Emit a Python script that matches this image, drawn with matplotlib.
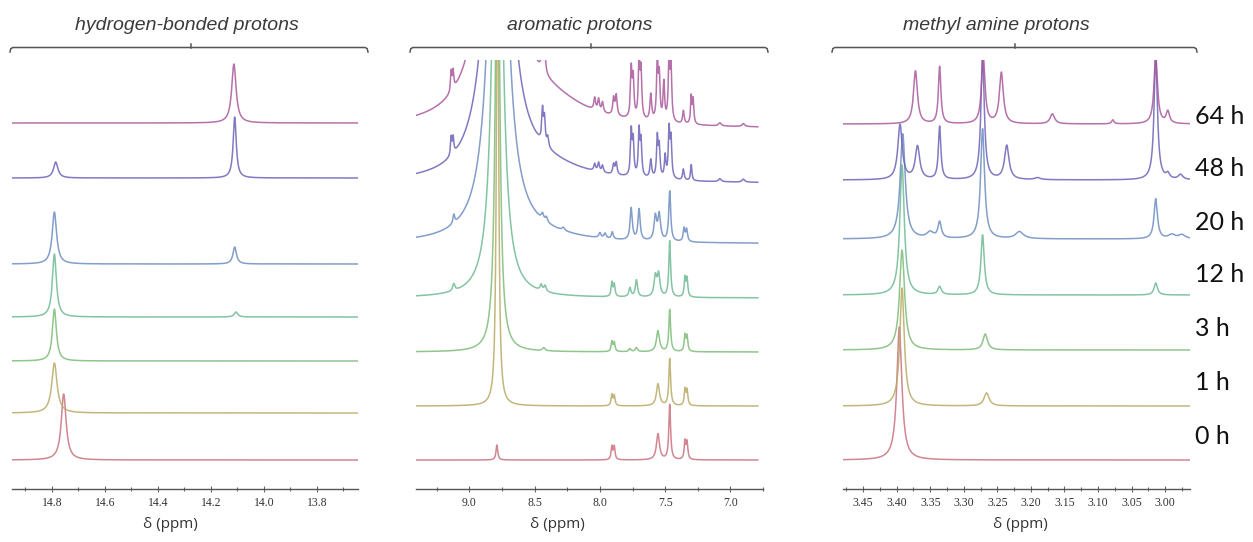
import numpy as np
import matplotlib
matplotlib.use("Agg")
import matplotlib.pyplot as plt
from matplotlib.lines import Line2D

W, H = 1253, 542

times = ["0 h", "1 h", "3 h", "12 h", "20 h", "48 h", "64 h"]
colors = ["#c9717e", "#b9aa66", "#7dbb78", "#6fb993", "#6d8dc1", "#6b63b8", "#a9589d"]

# baseline offsets of each trace (0 h ... 64 h), in stacked-plot units
hb_offsets = [29, 76, 128, 172, 225, 311, 366]
arom_offsets = [29, 83, 137, 191, 245, 305, 360]
me_offsets = [29, 83, 139, 194, 250, 309, 365]

# peak lists: (shift ppm, height, half width ppm)
hb_peaks = [
    [(14.755, 66, 0.011)],
    [(14.79, 50, 0.012)],
    [(14.79, 52, 0.009)],
    [(14.79, 63, 0.009), (14.105, 5, 0.008)],
    [(14.79, 52, 0.010), (14.11, 17, 0.008)],
    [(14.785, 16, 0.010), (14.11, 61, 0.007)],
    [(14.113, 59, 0.010)],
]

arom_peaks = [
    [(8.79, 15, 0.008), (7.908, 13, 0.007), (7.89, 13, 0.007), (7.555, 26, 0.014),
     (7.465, 55, 0.008), (7.348, 18, 0.007), (7.332, 17, 0.007)],
    [(8.785, 500, 0.0095), (7.908, 11, 0.007), (7.89, 10, 0.007), (7.555, 22, 0.014),
     (7.465, 47, 0.008), (7.348, 16, 0.007), (7.332, 15, 0.007)],
    [(8.785, 500, 0.0186), (8.43, 3, 0.012), (7.908, 10, 0.007), (7.89, 9, 0.007),
     (7.77, 3, 0.01), (7.72, 4, 0.01), (7.555, 21, 0.014), (7.465, 42, 0.008),
     (7.348, 16, 0.007), (7.332, 15, 0.007)],
    [(8.785, 600, 0.038), (9.12, 7, 0.01), (8.45, 6, 0.01), (8.42, 6, 0.01),
     (7.908, 14, 0.007), (7.89, 12, 0.007), (7.77, 9, 0.01), (7.72, 17, 0.01),
     (7.575, 20, 0.012), (7.55, 22, 0.012), (7.465, 56, 0.008), (7.348, 19, 0.007),
     (7.332, 18, 0.007)],
    [(8.78, 600, 0.062), (8.5, 6, 0.4), (9.12, 9, 0.008), (8.44, 6, 0.01),
     (8.41, 5, 0.01), (8.28, 3, 0.012), (8.0, 5, 0.01), (7.96, 5, 0.01),
     (7.905, 7, 0.008), (7.76, 32, 0.01), (7.70, 31, 0.01), (7.575, 24, 0.012),
     (7.545, 26, 0.012), (7.465, 50, 0.009), (7.355, 13, 0.008), (7.335, 12, 0.008)],
    [(8.78, 600, 0.075), (8.45, 14, 0.4), (9.14, 18, 0.006), (9.125, 16, 0.006),
     (8.44, 32, 0.007), (8.425, 25, 0.007), (8.40, 10, 0.008), (8.04, 7, 0.008),
     (8.01, 9, 0.008), (7.98, 7, 0.008), (7.895, 10, 0.008), (7.875, 12, 0.008),
     (7.76, 44, 0.007), (7.745, 34, 0.007), (7.70, 45, 0.007), (7.685, 34, 0.007),
     (7.61, 18, 0.008), (7.56, 40, 0.007), (7.545, 30, 0.007), (7.50, 22, 0.007),
     (7.47, 48, 0.007), (7.455, 38, 0.007), (7.36, 11, 0.007), (7.30, 16, 0.006),
     (7.08, 3, 0.012), (6.90, 3, 0.012)],
    [(8.78, 600, 0.087), (8.4, 22, 0.35), (9.14, 20, 0.006), (9.125, 18, 0.006),
     (8.44, 36, 0.007), (8.425, 30, 0.007), (8.04, 12, 0.008), (8.01, 12, 0.008),
     (7.98, 10, 0.008), (7.895, 17, 0.008), (7.875, 20, 0.008), (7.76, 48, 0.007),
     (7.745, 38, 0.007), (7.70, 60, 0.007), (7.685, 46, 0.007), (7.61, 26, 0.008),
     (7.56, 60, 0.007), (7.545, 42, 0.007), (7.51, 38, 0.007), (7.47, 64, 0.007),
     (7.455, 50, 0.007), (7.36, 13, 0.007), (7.30, 27, 0.006), (7.285, 24, 0.006),
     (7.08, 3, 0.012), (6.90, 3, 0.012)],
]

me_peaks = [
    [(3.396, 133, 0.0045)],
    [(3.392, 118, 0.0040), (3.266, 13, 0.0045)],
    [(3.392, 100, 0.0045), (3.268, 16, 0.0040)],
    [(3.392, 130, 0.0040), (3.336, 8, 0.003), (3.272, 60, 0.003), (3.014, 12, 0.003)],
    [(3.391, 105, 0.0045), (3.35, 6, 0.006), (3.336, 16, 0.003), (3.272, 110, 0.0035),
     (3.217, 7, 0.007), (3.014, 40, 0.003), (2.99, 4, 0.006), (2.975, 4, 0.006)],
    [(3.395, 55, 0.004), (3.369, 33, 0.004), (3.336, 53, 0.0022), (3.272, 125, 0.003),
     (3.236, 34, 0.004), (3.19, 2, 0.005), (3.014, 125, 0.003), (2.996, 5, 0.003),
     (2.977, 5, 0.004)],
    [(3.372, 53, 0.0035), (3.336, 57, 0.0022), (3.271, 70, 0.003), (3.244, 51, 0.0035),
     (3.168, 10, 0.004), (3.078, 4, 0.002), (3.014, 70, 0.003), (2.996, 12, 0.003)],
]

hb_ticks = [14.8, 14.6, 14.4, 14.2, 14.0, 13.8]
arom_ticks = [9.0, 8.5, 8.0, 7.5, 7.0]
me_ticks = [3.45, 3.40, 3.35, 3.30, 3.25, 3.20, 3.15, 3.10, 3.05, 3.00]


def fx(px):
    return px / W


def fy(py):
    return 1 - py / H


def spectrum(x, peaks):
    y = np.zeros_like(x)
    for pos, h, w in peaks:
        y += h / (1 + ((x - pos) / w) ** 2)
    return y


def bracket(fig, x0, x1, xc, y=47.5):
    xs = [x0, x0 + 0.8, x0 + 3, x1 - 3, x1 - 0.8, x1]
    ys = [52, 48.6, y, y, 48.6, 52]
    fig.add_artist(Line2D([fx(v) for v in xs], [fy(v) for v in ys],
                          color="#555555", lw=1.1, transform=fig.transFigure))
    fig.add_artist(Line2D([fx(xc), fx(xc)], [fy(y), fy(43.5)],
                          color="#555555", lw=1.1, transform=fig.transFigure))


fig = plt.figure(figsize=(W / 100, H / 100), dpi=100)

panels = [
    # pixel span of the axis, xlim, ticks, minor step, label format, peaks, offsets,
    # title, title x, bracket, xlabel x
    (12, 358, (14.95, 13.645), hb_ticks, 0.1, "%.1f", hb_peaks, hb_offsets,
     "hydrogen-bonded protons", 187, (10, 368, 191), 170),
    (416, 763, (9.41, 6.79), arom_ticks, 0.25, "%.1f", arom_peaks, arom_offsets,
     "aromatic protons", 580, (410, 768, 591), 557),
    (843, 1190, (3.48, 2.963), me_ticks, 0.025, "%.2f", me_peaks, me_offsets,
     "methyl amine protons", 996, (832, 1197, 1015), 1020),
]

top_px, axis_px = 60, 489

for (p0, p1, xlim, ticks, minor, fmt, peaks, offsets,
     title, tx, br, lx) in panels:
    ax = fig.add_axes([fx(p0), fy(axis_px), fx(p1 - p0), (axis_px - top_px) / H])
    x = np.linspace(xlim[1], xlim[0], 4000)
    for peaks_i, off, col in zip(peaks, offsets, colors):
        ax.plot(x, off + spectrum(x, peaks_i), color=col, lw=1.1, alpha=0.85)
    ax.set_xlim(*xlim)
    ax.set_ylim(0, axis_px - top_px)
    ax.set_yticks([])
    for s in ["top", "left", "right"]:
        ax.spines[s].set_visible(False)
    ax.spines["bottom"].set_color("#555555")
    ax.spines["bottom"].set_linewidth(1.0)
    ax.set_xticks(ticks)
    ax.set_xticklabels([fmt % t for t in ticks], family="Liberation Serif",
                       fontsize=8.5, color="#333333")
    ax.set_xticks(np.arange(ticks[-1] - minor, xlim[0], minor), minor=True)
    ax.tick_params(axis="x", which="both", direction="inout", length=4,
                   width=0.8, color="#666666", pad=4)
    ax.tick_params(axis="x", which="minor", length=3)
    ax.patch.set_visible(False)

    fig.text(fx(tx), fy(25), title, ha="center", va="center", fontsize=14,
             style="italic", family="Liberation Sans", color="#3a3a3a")
    bracket(fig, *br)
    fig.text(fx(lx), fy(524), "\u03b4 (ppm)", ha="center", va="center",
             fontsize=11, family=["Open Sans", "DejaVu Sans"], color="#333333")

label_y = [437, 383, 328, 274, 222, 168, 117]
for t, ly in zip(times, label_y):
    fig.text(fx(1195), fy(ly), t, ha="left", va="center", fontsize=18,
             family=["Lato", "DejaVu Sans"], color="#111111")

fig.savefig("out.png", dpi=100)
